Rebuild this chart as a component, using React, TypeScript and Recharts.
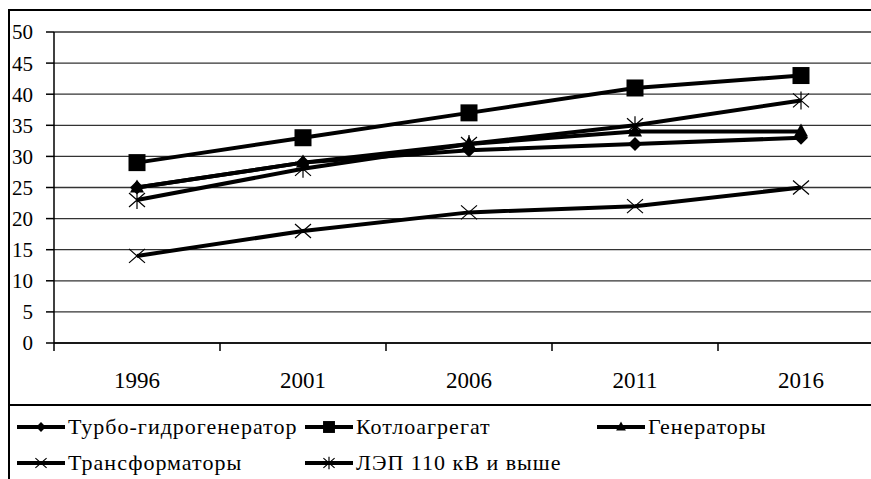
import React from 'react';
import {
  LineChart,
  Line,
  XAxis,
  YAxis,
  CartesianGrid,
  Legend,
} from 'recharts';

const years = ['1996', '2001', '2006', '2011', '2016'];
const turbo = [25, 29, 31, 32, 33];
const kotlo = [29, 33, 37, 41, 43];
const gener = [25, 29, 32, 34, 34];
const trans = [14, 18, 21, 22, 25];
const lep = [23, 28, 32, 35, 39];
const yTicks = [0, 5, 10, 15, 20, 25, 30, 35, 40, 45, 50];

type Shape = 'diamond' | 'square' | 'triangle' | 'cross' | 'star';

const series: { key: string; name: string; shape: Shape }[] = [
  { key: 'turbo', name: 'Турбо-гидрогенератор', shape: 'diamond' },
  { key: 'kotlo', name: 'Котлоагрегат', shape: 'square' },
  { key: 'gener', name: 'Генераторы', shape: 'triangle' },
  { key: 'trans', name: 'Трансформаторы', shape: 'cross' },
  { key: 'lep', name: 'ЛЭП 110 кВ и выше', shape: 'star' },
];

const data = years.map((year, i) => ({
  idx: i,
  year,
  turbo: turbo[i],
  kotlo: kotlo[i],
  gener: gener[i],
  trans: trans[i],
  lep: lep[i],
}));

// category centres get labels, category edges get the little tick marks
const xTicks = years.flatMap((_, i) => [i - 0.5, i]).concat(years.length - 0.5);

const FONT = '"Liberation Serif", "Times New Roman", serif';

const marker = (shape: Shape, cx: number, cy: number, s = 1) => {
  switch (shape) {
    case 'diamond':
      return <path d={`M${cx},${cy - 7 * s}L${cx + 7 * s},${cy}L${cx},${cy + 7 * s}L${cx - 7 * s},${cy}Z`} fill="#000" />;
    case 'square':
      return <rect x={cx - 8.5 * s} y={cy - 8.5 * s} width={17 * s} height={17 * s} fill="#000" />;
    case 'triangle':
      return <path d={`M${cx},${cy - 8 * s}L${cx + 7 * s},${cy + 5 * s}L${cx - 7 * s},${cy + 5 * s}Z`} fill="#000" />;
    case 'cross':
      return (
        <path
          d={`M${cx - 8 * s},${cy - 7 * s}L${cx + 8 * s},${cy + 7 * s}M${cx - 8 * s},${cy + 7 * s}L${cx + 8 * s},${cy - 7 * s}`}
          stroke="#000"
          strokeWidth={1.2}
          fill="none"
        />
      );
    default:
      return (
        <path
          d={`M${cx - 8 * s},${cy - 7 * s}L${cx + 8 * s},${cy + 7 * s}M${cx - 8 * s},${cy + 7 * s}L${cx + 8 * s},${cy - 7 * s}M${cx},${cy - 9 * s}L${cx},${cy + 9 * s}`}
          stroke="#000"
          strokeWidth={1.2}
          fill="none"
        />
      );
  }
};

const makeDot = (shape: Shape) => (props: any) => {
  const { cx, cy, index } = props;
  return <g key={`${shape}-${index}`}>{marker(shape, cx, cy)}</g>;
};

const XTick = (props: any) => {
  const { x, y, payload } = props;
  const v = payload.value as number;
  if (!Number.isInteger(v)) {
    return <line x1={x} y1={y} x2={x} y2={y + 8} stroke="#000" strokeWidth={1.5} />;
  }
  return (
    <text x={x} y={y + 45} textAnchor="middle" fill="#000" fontFamily={FONT} fontSize={23}>
      {years[v]}
    </text>
  );
};

const LegendBox = () => (
  <div
    style={{
      display: 'grid',
      gridTemplateColumns: '288px 292px 280px',
      fontFamily: FONT,
      fontSize: 22,
      letterSpacing: 1,
      color: '#000',
      paddingTop: 4,
      paddingLeft: 17,
    }}
  >
    {series.map((s) => (
      <div key={s.key} style={{ display: 'flex', alignItems: 'center', height: 36, whiteSpace: 'nowrap' }}>
        <svg width={51} height={20} style={{ flexShrink: 0 }}>
          <line x1={0} y1={10} x2={48} y2={10} stroke="#000" strokeWidth={4} />
          {marker(s.shape, 24, 10, 0.7)}
        </svg>
        <span>{s.name}</span>
      </div>
    ))}
  </div>
);

const App: React.FC = () => {
  return (
    <div style={{ position: 'absolute', left: 0, top: 0, width: 871, height: 479, overflow: 'hidden', background: '#fff' }}>
      <LineChart
        width={890}
        height={479}
        data={data}
        margin={{ top: 32, right: 6, left: 8, bottom: 0 }}
        style={{ fontFamily: FONT }}
      >
        <CartesianGrid vertical={false} stroke="#333" strokeWidth={1.3} />
        <XAxis
          dataKey="idx"
          type="number"
          domain={[-0.5, years.length - 0.5]}
          ticks={xTicks}
          interval={0}
          tickLine={false}
          tickSize={0}
          tickMargin={0}
          height={62}
          axisLine={{ stroke: '#000', strokeWidth: 1.5 }}
          tick={<XTick />}
        />
        <YAxis
          domain={[0, 50]}
          ticks={yTicks}
          interval={0}
          width={46}
          tickSize={8}
          tickMargin={13}
          axisLine={{ stroke: '#000', strokeWidth: 1.5 }}
          tickLine={{ stroke: '#000', strokeWidth: 1.5 }}
          tick={{ fill: '#000', fontSize: 21, fontFamily: FONT }}
        />
        <Legend
          verticalAlign="bottom"
          content={<LegendBox />}
          wrapperStyle={{ position: 'absolute', left: 0, top: 405, width: 880, height: 74 }}
        />
        {series.map((s) => (
          <Line
            key={s.key}
            dataKey={s.key}
            name={s.name}
            stroke="#000"
            strokeWidth={4}
            dot={makeDot(s.shape)}
            activeDot={false}
            isAnimationActive={false}
          />
        ))}
      </LineChart>
      <div style={{ position: 'absolute', left: 8, top: 9, width: 900, height: 500, border: '2px solid #000', pointerEvents: 'none' }} />
      <div style={{ position: 'absolute', left: 8, top: 404, width: 900, height: 2, background: '#000', pointerEvents: 'none' }} />
    </div>
  );
};

export default App;
